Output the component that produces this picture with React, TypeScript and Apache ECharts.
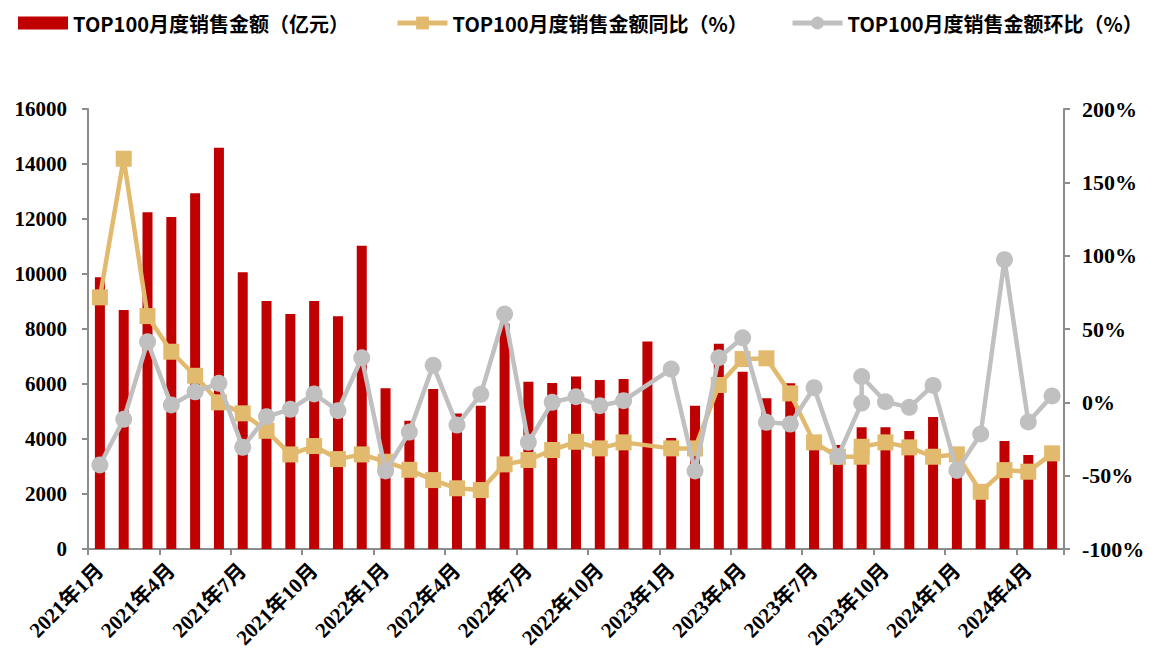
import React, { useEffect, useRef } from "react";
import * as echarts from "echarts";

const months: string[] = [
  "2021年1月", "2021年2月", "2021年3月", "2021年4月", "2021年5月", "2021年6月",
  "2021年7月", "2021年8月", "2021年9月", "2021年10月", "2021年11月", "2021年12月",
  "2022年1月", "2022年2月", "2022年3月", "2022年4月", "2022年5月", "2022年6月",
  "2022年7月", "2022年8月", "2022年9月", "2022年10月", "2022年11月", "2022年12月",
  "2023年1月", "2023年2月", "2023年3月", "2023年4月", "2023年5月", "2023年6月",
  "2023年7月", "2023年8月", "2023年9月", "2023年10月", "2023年11月", "2023年12月",
  "2024年1月", "2024年2月", "2024年3月", "2024年4月", "2024年5月",
];

// TOP100 monthly sales (100 million yuan)
const sales: number[] = [
  9880, 8690, 12250, 12070, 12940, 14590, 10060, 9020, 8550, 9020, 8460, 11030,
  5850, 4660, 5820, 4930, 5210, 8200, 6080, 6040, 6270, 6150, 6180, 7550,
  4040, 5210, 7460, 6450, 5480, 6030, 4000, 3780, 4430, 4430, 4290, 4800,
  2700, 2000, 3930, 3420, 3400,
];

// rows of the two ratio series (2022年12月 missing, 2023年9月 appears twice)
const lineMonths: string[] = [
  "2021年1月", "2021年2月", "2021年3月", "2021年4月", "2021年5月", "2021年6月",
  "2021年7月", "2021年8月", "2021年9月", "2021年10月", "2021年11月", "2021年12月",
  "2022年1月", "2022年2月", "2022年3月", "2022年4月", "2022年5月", "2022年6月",
  "2022年7月", "2022年8月", "2022年9月", "2022年10月", "2022年11月",
  "2023年1月", "2023年2月", "2023年3月", "2023年4月", "2023年5月", "2023年6月",
  "2023年7月", "2023年8月", "2023年9月", "2023年9月", "2023年10月", "2023年11月", "2023年12月",
  "2024年1月", "2024年2月", "2024年3月", "2024年4月", "2024年5月",
];

// YoY (%)
const yoy: number[] = [
  71.6, 166.1, 58.8, 34.5, 18.1, 0, -7.5, -19.4, -35.5, -29.8, -38.7, -35.5,
  -40.5, -46, -53, -58.6, -59.8, -42.3, -39.3, -32.5, -26.9, -31.4, -27.3,
  -31.4, -31.4, 11.8, 29.5, 30.0, 6.1, -27.3, -37.1, -37.1, -30.3, -27.3, -30.7, -37.1,
  -35.5, -61, -46.2, -47.3, -34.8,
];

// MoM (%)
const mom: number[] = [
  -42.7, -11.6, 41.3, -1.8, 7.2, 13.0, -30.7, -9.8, -4.8, 5.7, -5.7, 30.4,
  -46.8, -20.3, 25.2, -15.5, 5.5, 60.2, -27.3, 0, 3.8, -2.3, 1.1,
  22.7, -46.8, 30.4, 44.0, -13.6, -14.8, 10, -37, -0.5, 17.6, 0.4, -3.4, 11.5,
  -46.4, -21.6, 97.3, -13.4, 4.4,
];

const leftTicks = { min: 0, max: 16000, interval: 2000 };
const rightTicks = { min: -100, max: 200, interval: 50 };

const names = [
  "TOP100月度销售金额（亿元）",
  "TOP100月度销售金额同比（%）",
  "TOP100月度销售金额环比（%）",
];

export default function App() {
  const ref = useRef<HTMLDivElement>(null);
  useEffect(() => {
    if (!ref.current) return;
    const chart = echarts.init(ref.current, null, { renderer: "svg" });
    const axisColor = "#8c8c8c";
    const serif = "'Liberation Serif', 'Times New Roman', 'Noto Sans CJK SC', serif";
    const legendText = {
      fontFamily: "'Noto Sans CJK SC', sans-serif",
      fontWeight: "bold" as const,
      fontSize: 20,
      color: "#000",
    };
    const legendBase = {
      top: 13,
      itemWidth: 50,
      itemHeight: 13,
      itemGap: 0,
      textStyle: legendText,
      padding: 0,
    };
    chart.setOption({
      animation: false,
      backgroundColor: "#fff",
      legend: [
        { ...legendBase, left: 18, data: [{ name: names[0], icon: "rect" }] },
        {
          ...legendBase,
          left: 395,
          itemHeight: 16,
          lineStyle: { width: 5 },
          data: [names[1]],
        },
        {
          ...legendBase,
          left: 790,
          itemHeight: 16,
          lineStyle: { width: 5 },
          data: [names[2]],
        },
      ],
      grid: { left: 88, right: 91, top: 109, bottom: 108, containLabel: false },
      xAxis: {
        type: "category",
        data: months,
        boundaryGap: true,
        axisLine: { lineStyle: { color: axisColor, width: 2 } },
        axisTick: { show: true, interval: 2, length: 6, lineStyle: { color: axisColor, width: 2 } },
        axisLabel: {
          interval: 2,
          rotate: 45,
          margin: 18,
          fontFamily: serif,
          fontWeight: "bold",
          fontSize: 21,
          color: "#000",
        },
        splitLine: { show: false },
      },
      yAxis: [
        {
          type: "value",
          ...leftTicks,
          axisLine: { show: true, lineStyle: { color: axisColor, width: 2 } },
          axisTick: { show: true, length: 6, lineStyle: { color: axisColor, width: 2 } },
          axisLabel: {
            margin: 21,
            formatter: (v: number) => String(v),
            fontFamily: serif,
            fontWeight: "bold",
            fontSize: 21,
            color: "#000",
          },
          splitLine: { show: false },
        },
        {
          type: "value",
          ...rightTicks,
          axisLine: { show: true, lineStyle: { color: axisColor, width: 2 } },
          axisTick: { show: true, length: 6, lineStyle: { color: axisColor, width: 2 } },
          axisLabel: {
            margin: 18,
            formatter: "{value}%",
            fontFamily: serif,
            fontWeight: "bold",
            fontSize: 22,
            color: "#000",
          },
          splitLine: { show: false },
        },
      ],
      series: [
        {
          name: names[0],
          type: "bar",
          data: sales,
          barWidth: 10,
          itemStyle: { color: "#c00000" },
          z: 1,
        },
        {
          name: names[1],
          type: "line",
          yAxisIndex: 1,
          data: lineMonths.map((m, i) => [m, yoy[i]]),
          symbol: "rect",
          symbolSize: 16,
          showAllSymbol: true,
          lineStyle: { color: "#e2ba6e", width: 4.5 },
          itemStyle: { color: "#e2ba6e" },
          z: 3,
        },
        {
          name: names[2],
          type: "line",
          yAxisIndex: 1,
          data: lineMonths.map((m, i) => [m, mom[i]]),
          symbol: "circle",
          symbolSize: 17,
          showAllSymbol: true,
          lineStyle: { color: "#c0c0c0", width: 4.5 },
          itemStyle: { color: "#c0c0c0" },
          z: 4,
        },
      ],
    });
    return () => chart.dispose();
  }, []);
  return (
    <div
      ref={ref}
      style={{ position: "fixed", left: 0, top: 0, width: 1155, height: 657 }}
    />
  );
}
